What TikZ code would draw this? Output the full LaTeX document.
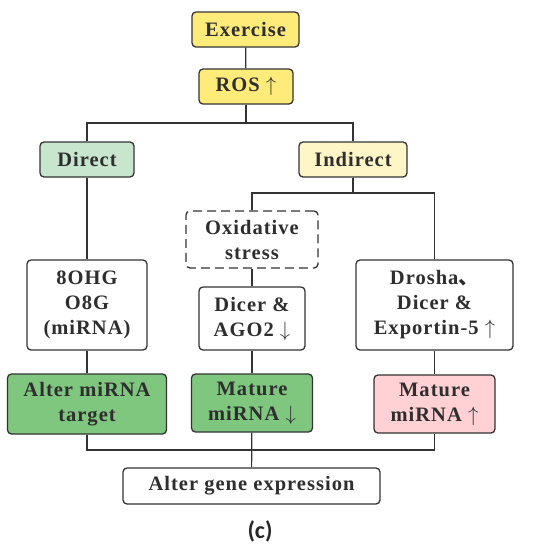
\documentclass[tikz,border=0pt]{standalone}
\usepackage{fontspec}
\setmainfont{Liberation Serif}[LetterSpace=5]
\newfontfamily\cjkfont{Noto Sans CJK SC}
\newfontfamily\capfont{Carlito}
\usetikzlibrary{positioning}

\definecolor{yellowbox}{HTML}{FFEB7A}
\definecolor{directbox}{HTML}{C8E6CE}
\definecolor{indirectbox}{HTML}{FFF6C8}
\definecolor{greenbox}{HTML}{7FC67F}
\definecolor{pinkbox}{HTML}{FFD0D4}
\definecolor{edge}{HTML}{333333}

\begin{document}
\begin{tikzpicture}[
    x=1pt, y=-1pt,
    font=\fontsize{20.5}{25}\selectfont\bfseries,
    stage/.style={draw=edge, line width=1.3pt, rounded corners=4pt, align=center,
                  inner sep=0pt, text=black!82},
    dashbox/.style={stage, dashed, dash pattern=on 9pt off 5pt},
    link/.style={draw=edge, line width=1.2pt}]

  \useasboundingbox (0,0) rectangle (537,550);

  % top chain
  \node[stage, fill=yellowbox, minimum width=107pt, minimum height=35pt] (ex) at (245.5,29.5) {Exercise};
  \node[stage, fill=yellowbox, minimum width=94pt, minimum height=35pt] (ros) at (246,86.5) {ROS $\uparrow$};

  \node[stage, fill=directbox, minimum width=94pt, minimum height=35pt] (direct) at (87,159.5) {Direct};
  \node[stage, fill=indirectbox, minimum width=108pt, minimum height=35pt] (indirect) at (353,159.5) {Indirect};

  \node[dashbox, fill=white, minimum width=132pt, minimum height=57pt] (oxi) at (252,239.5) {Oxidative\\stress};

  % middle row
  \node[stage, fill=white, minimum width=120pt, minimum height=90pt] (ohg) at (87,305) {8OHG\\O8G\\(miRNA)};
  \node[stage, fill=white, minimum width=106pt, minimum height=63pt] (dicer) at (252,318.5) {Dicer \&\\AGO2 $\downarrow$};
  \node[stage, fill=white, minimum width=157pt, minimum height=90pt] (drosha) at (434.5,305) {Drosha{\cjkfont 、}\\Dicer \&\\Exportin-5 $\uparrow$};

  % result row
  \node[stage, fill=greenbox, minimum width=159pt, minimum height=60pt] (target) at (87,404) {Alter miRNA\\target};
  \node[stage, fill=greenbox, minimum width=121pt, minimum height=58pt] (matdown) at (252,403) {Mature\\miRNA $\downarrow$};
  \node[stage, fill=pinkbox, minimum width=121pt, minimum height=58pt] (matup) at (434.5,404) {Mature\\miRNA $\uparrow$};

  \node[stage, fill=white, minimum width=257pt, minimum height=36pt] (gene) at (251.5,486) {Alter gene expression};

  \node[font=\capfont\bfseries\fontsize{24}{28}\selectfont, text=black!85] (cap) at (260,531) {(c)};

  \coordinate (split) at (246,123);
  \coordinate (isplit) at (353,193);
  \coordinate (join) at (252,450);

  \draw[link] (ex) -- (ros);
  \draw[link] (ros) -- (split);
  \draw[link] (direct.north) |- (split) -| (indirect.north);
  \draw[link] (direct) -- (ohg);
  \draw[link] (indirect) -- (isplit);
  \draw[link] (oxi.north) |- (isplit) -| (drosha.north);
  \draw[link] (oxi) -- (dicer);
  \draw[link] (ohg) -- (target);
  \draw[link] (dicer) -- (matdown);
  \draw[link] (drosha) -- (matup);
  \draw[link] (target.south) |- (join) -| (matup.south);
  \draw[link] (matdown) -- (gene);
\end{tikzpicture}
\end{document}
